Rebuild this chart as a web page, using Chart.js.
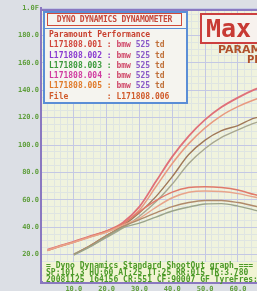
<!DOCTYPE html>
<html>
<head>
<meta charset="utf-8">
<script src="https://cdn.jsdelivr.net/npm/chart.js@4.4.1/dist/chart.umd.min.js"></script>
<style>
    html, body { margin: 0; padding: 0; }
    body {
        width: 257px; height: 291px; overflow: hidden; position: relative;
        background: #dcdfe5;
        font-family: "DejaVu Sans Mono", monospace;
    }
    #dyno { position: absolute; left: 0; top: 0; }
    #legendBox {
        position: absolute; left: 43px; top: 11px; width: 141px; height: 89px;
        border: 2px solid #5b8ed6; background: #f5f4ef;
        font-weight: bold; font-size: 8px;
    }
    #legendTitle {
        position: absolute; left: 2px; top: 0px; width: 133px; height: 11px;
        border: 1.5px solid #d04a3a; color: #c8483a;
        font-size: 8px; line-height: 11px; text-align: center; letter-spacing: -0.2px;
    }
    #legendSep { position: absolute; left: 0; top: 15px; width: 141px; height: 1px; background: #5b8ed6; }
    #legendRows { position: absolute; left: 4px; top: 17px; line-height: 10.3px; white-space: pre; }
    #maxBox {
        position: absolute; left: 200px; top: 13px; width: 80px; height: 27px;
        border: 2px solid #cc4040; background: #f7f2ee; color: #c83a34;
        font: bold 25px "DejaVu Sans Mono", monospace; line-height: 27px; padding-left: 4px;
    }
    #brand1 { position: absolute; left: 218px; top: 43px; color: #b0502a; font: bold 11px "DejaVu Sans", sans-serif; }
    #brand2 { position: absolute; left: 247px; top: 54px; color: #b0502a; font: bold 10px "DejaVu Sans", sans-serif; }
    #infoBox {
        position: absolute; left: 43px; top: 262px; width: 280px; height: 20px;
        background: #f1f4d3; color: #4c9a28;
        font-weight: bold; font-size: 8px; line-height: 7px; white-space: pre; padding-left: 3px;
    }
</style>
</head>
<body>
<canvas id="dyno" width="315" height="300"></canvas>
<div id="legendBox">
    <div id="legendTitle">DYNO DYNAMICS DYNAMOMETER</div>
    <div id="legendSep"></div>
    <div id="legendRows"></div>
</div>
<div id="maxBox">Max</div>
<div id="brand1">PARAMOUNT</div>
<div id="brand2">PERFORMANCE</div>
<div id="infoBox"></div>
<script>
// road speed along the bottom
const speed = [2, 5, 10, 15, 20, 25, 30, 35, 40, 45, 50, 55, 60, 65, 70, 75];

// power curves
const power1 = [23.6, 25.8, 29.5, 33.5, 37.2, 43.4, 55.0, 73.3, 91.5, 106.5, 118.5, 127.7, 134.6, 140.4, 144.8, 149.2];
const power2 = [23.2, 25.3, 29.0, 33.0, 36.5, 42.0, 52.5, 69.5, 86.5, 101.0, 112.5, 121.5, 128.0, 133.0, 137.0, 140.0];
const power3 = [null, null, 20.0, 26.6, 33.9, 41.2, 50.6, 62.3, 76.9, 93.0, 103.6, 110.5, 114.2, 119.6, 121.1, 122.9];
const power4 = [null, null, 20.5, 26.0, 32.5, 39.5, 48.0, 58.5, 71.5, 86.5, 97.5, 105.5, 111.0, 116.0, 118.5, 120.5];

// tractive effort curves
const torque1 = [22.9, 25.5, 29.1, 33.1, 37.2, 42.6, 51.4, 59.4, 65.6, 68.9, 69.5, 68.9, 67.1, 63.8, 60.9, 57.2];
const torque2 = [23.0, 25.5, 29.0, 32.8, 36.5, 41.5, 46.5, 54.5, 61.5, 65.5, 66.5, 66.0, 64.5, 62.0, 59.5, 56.5];
const torque3 = [null, null, 19.6, 25.8, 33.1, 39.7, 43.0, 47.4, 51.8, 54.7, 56.9, 57.2, 55.4, 52.5, 49.6, 46.6];
const torque4 = [null, null, 20.2, 26.5, 34.0, 40.5, 45.5, 50.5, 55.0, 58.0, 59.5, 59.5, 58.0, 55.5, 53.0, 50.0];

const xTickLabels = ['', '10.0', '20.0', '30.0', '40.0', '50.0', '60.0', '70.0', '80.0'];
const yTickLabels = ['', '20.0', '40.0', '60.0', '80.0', '100.0', '120.0', '140.0', '160.0', '180.0', '1.0F'];

const runFiles = ['L171808.001', 'L171808.002', 'L171808.003', 'L171808.004', 'L171808.005'];
const runColors = ['#d0453a', '#8a3ad0', '#3a9a3a', '#d03aa0', '#e07a2a'];
const fileName = 'L171808.006';

const infoLines = [
    '= Dyno Dynamics Standard ShootOut graph ===',
    'SP:101.3 HU:60 AT:25 IT:25 RR:015 TR:3.780',
    '20081125 164156 CR:551 CF:90007 GF TyreFres:'
];

// legend text
let rows = '<span style="color:#c8402e">Paramount Performance</span>\n';
runFiles.forEach((f, i) => {
    rows += `<span style="color:${runColors[i]}">${f} : </span><span style="color:#d04a6a">bmw</span> <span style="color:#8a5ac8">525</span> <span style="color:#c0703a">td</span>\n`;
});
rows += `<span style="color:#d05a2a">File        : ${fileName}</span>`;
document.getElementById('legendRows').innerHTML = rows;
document.getElementById('infoBox').textContent = infoLines.join('\n');

function toPoints(arr) {
    return speed.map((s, i) => ({ x: s, y: arr[i] }));
}

function line(arr, color, width) {
    return {
        data: toPoints(arr),
        borderColor: color,
        borderWidth: width,
        pointRadius: 0,
        cubicInterpolationMode: 'monotone',
        fill: false
    };
}

const plotFrame = {
    id: 'plotFrame',
    beforeDraw(chart) {
        const { ctx, chartArea: a } = chart;
        ctx.save();
        ctx.fillStyle = '#f0f3de';
        ctx.fillRect(a.left, a.top, a.right - a.left, a.bottom - a.top);
        ctx.restore();
    },
    afterDraw(chart) {
        const { ctx, chartArea: a } = chart;
        ctx.save();
        ctx.strokeStyle = '#8a78c0';
        ctx.lineWidth = 2;
        ctx.strokeRect(a.left, a.top + 2, a.right - a.left, a.bottom - a.top - 1);
        ctx.restore();
    }
};

const tickFont = { family: "'DejaVu Sans Mono', monospace", size: 7, weight: 'bold' };

new Chart(document.getElementById('dyno').getContext('2d'), {
    type: 'line',
    data: {
        datasets: [
            line(torque3, '#9aa48a', 1.4),
            line(torque4, '#b08a6a', 1.4),
            line(torque2, '#e8a48a', 1.5),
            line(torque1, '#e07a6a', 1.5),
            line(power4, '#a8a890', 1.4),
            line(power3, '#a07858', 1.4),
            line(power2, '#e89a80', 1.5),
            line(power1, '#e07078', 1.8)
        ]
    },
    options: {
        responsive: false,
        animation: false,
        layout: { padding: { top: 8, right: 10, left: 0, bottom: 0 } },
        plugins: { legend: { display: false }, tooltip: { enabled: false } },
        scales: {
            xMinor: {
                type: 'linear', position: 'bottom', min: 0, max: 80, z: -1,
                ticks: { display: false, stepSize: 2 },
                grid: { color: '#dfe5e2', drawTicks: false },
                border: { display: false },
                afterFit(s) { s.height = 0; }
            },
            yMinor: {
                type: 'linear', position: 'left', min: 0, max: 200, z: -1,
                ticks: { display: false, stepSize: 5 },
                grid: { color: '#dfe5e2', drawTicks: false },
                border: { display: false },
                afterFit(s) { s.width = 0; }
            },
            x: {
                type: 'linear', min: 0, max: 80,
                ticks: {
                    stepSize: 10, color: '#5f9e3c', font: tickFont, padding: 3,
                    callback: (v) => xTickLabels[Math.round(v / 10)]
                },
                grid: { color: '#c4c8e4', drawTicks: false },
                border: { color: '#8a78c0', width: 2 },
                afterFit(s) { s.height = 18; }
            },
            y: {
                type: 'linear', min: 0, max: 200,
                ticks: {
                    stepSize: 20, color: '#5f9e3c', font: tickFont, padding: 2,
                    callback: (v) => yTickLabels[Math.round(v / 20)]
                },
                grid: { color: '#c4c8e4', drawTicks: false },
                border: { color: '#8a78c0', width: 2 },
                afterFit(s) { s.width = 41; }
            }
        }
    },
    plugins: [plotFrame]
});
</script>
</body>
</html>
